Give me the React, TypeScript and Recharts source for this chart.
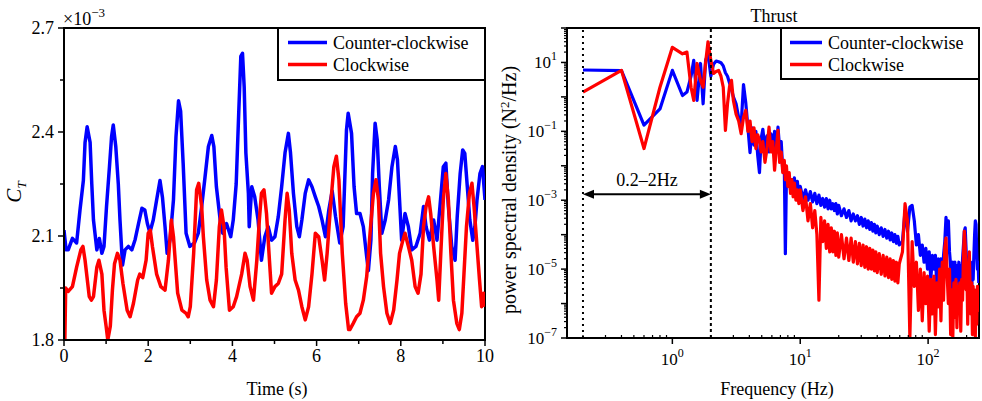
import React from 'react';
import { LineChart, Line, XAxis, YAxis, ReferenceLine, ReferenceArea } from 'recharts';

const SERIF = '"Liberation Serif", "Times New Roman", Times, serif';
const BLUE = '#0000ff';
const RED = '#ff0000';

// ---------- Left panel: thrust coefficient time history (values in units of 1e-3) ----------
const ccwTime = [
  0, 0.05, 0.1, 0.2, 0.3, 0.38, 0.46, 0.5, 0.55, 0.62,
  0.66, 0.7, 0.78, 0.84, 0.9, 0.95, 1.01, 1.08, 1.13, 1.17,
  1.23, 1.29, 1.33, 1.39, 1.45, 1.53, 1.61, 1.69, 1.77, 1.85,
  1.92, 1.98, 2.04, 2.12, 2.2, 2.28, 2.34, 2.4, 2.45, 2.52,
  2.6, 2.66, 2.72, 2.77, 2.83, 2.9, 2.99, 3.1, 3.19, 3.27,
  3.35, 3.43, 3.51, 3.56, 3.62, 3.71, 3.77, 3.86, 3.96, 4.02,
  4.09, 4.15, 4.2, 4.24, 4.28, 4.32, 4.38, 4.4, 4.46, 4.53,
  4.61, 4.69, 4.77, 4.85, 4.93, 5.01, 5.09, 5.17, 5.25, 5.33,
  5.38, 5.45, 5.53, 5.59, 5.65, 5.73, 5.81, 5.89, 5.97, 6.05,
  6.13, 6.21, 6.29, 6.37, 6.45, 6.55, 6.63, 6.71, 6.75, 6.83,
  6.89, 6.95, 7.03, 7.11, 7.19, 7.23, 7.29, 7.33, 7.39, 7.44,
  7.49, 7.55, 7.63, 7.71, 7.79, 7.87, 7.92, 7.97, 8.02, 8.1,
  8.18, 8.26, 8.36, 8.46, 8.54, 8.6, 8.68, 8.78, 8.86, 8.93,
  9.01, 9.07, 9.13, 9.21, 9.29, 9.34, 9.41, 9.47, 9.52, 9.58,
  9.64, 9.71, 9.76, 9.81, 9.88, 9.94, 10,
];
const ccwCt = [
  2.117, 2.06, 2.06, 2.093, 2.08, 2.175, 2.26, 2.37, 2.415, 2.37,
  2.25, 2.146, 2.06, 2.093, 2.05, 2.07, 2.185, 2.30, 2.387, 2.42,
  2.358, 2.25, 2.146, 2.016, 2.06, 2.07, 2.06, 2.09, 2.136, 2.18,
  2.175, 2.136, 2.11, 2.146, 2.204, 2.26, 2.21, 2.127, 2.05, 2.09,
  2.204, 2.387, 2.49, 2.46, 2.31, 2.108, 2.07, 2.08, 2.108, 2.185,
  2.27, 2.358, 2.39, 2.358, 2.242, 2.146, 2.108, 2.136, 2.098, 2.146,
  2.25, 2.454, 2.618, 2.627, 2.53, 2.34, 2.223, 2.127, 2.242, 2.213,
  2.146, 2.03, 2.098, 2.127, 2.088, 2.098, 2.156, 2.242, 2.34, 2.396,
  2.34, 2.223, 2.127, 2.098, 2.146, 2.223, 2.262, 2.242, 2.213, 2.185,
  2.146, 2.098, 2.175, 2.23, 2.156, 2.08, 2.127, 2.406, 2.454, 2.396,
  2.242, 2.165, 2.165, 2.127, 2.04, 2.0, 2.088, 2.28, 2.425, 2.377,
  2.242, 2.108, 2.146, 2.204, 2.30, 2.358, 2.32, 2.204, 2.088, 2.165,
  2.127, 2.06, 2.07, 2.108, 2.185, 2.127, 2.088, 2.146, 2.088, 2.185,
  2.30, 2.31, 2.185, 2.07, 2.03, 2.156, 2.28, 2.348, 2.338, 2.242,
  2.146, 2.088, 2.127, 2.204, 2.28, 2.30, 2.204,
];
const cwTime = [
  0, 0.02, 0.04, 0.1, 0.2, 0.3, 0.4, 0.45, 0.5, 0.6, 0.65,
  0.7, 0.78, 0.83, 0.9, 0.95, 1.0, 1.04, 1.1, 1.15, 1.2,
  1.27, 1.33, 1.4, 1.5, 1.57, 1.65, 1.75, 1.8, 1.87, 1.95,
  2.0, 2.05, 2.1, 2.2, 2.3, 2.4, 2.48, 2.55, 2.6, 2.7,
  2.8, 2.9, 2.95, 3.0, 3.08, 3.15, 3.2, 3.27, 3.31, 3.39,
  3.47, 3.55, 3.62, 3.69, 3.74, 3.8, 3.85, 3.93, 4.02, 4.1,
  4.22, 4.3, 4.35, 4.42, 4.5, 4.58, 4.64, 4.69, 4.75, 4.81,
  4.88, 4.93, 5.01, 5.09, 5.17, 5.25, 5.3, 5.35, 5.41, 5.49,
  5.57, 5.65, 5.73, 5.81, 5.89, 5.97, 6.05, 6.13, 6.19, 6.25,
  6.33, 6.41, 6.47, 6.53, 6.61, 6.69, 6.76, 6.79, 6.87, 6.95,
  7.03, 7.11, 7.19, 7.27, 7.35, 7.41, 7.47, 7.52, 7.59, 7.67,
  7.75, 7.83, 7.91, 7.97, 8.05, 8.1, 8.18, 8.26, 8.34, 8.41,
  8.48, 8.54, 8.6, 8.66, 8.71, 8.78, 8.86, 8.9, 8.95, 9.01,
  9.07, 9.13, 9.19, 9.25, 9.33, 9.39, 9.45, 9.5, 9.56, 9.63,
  9.69, 9.74, 9.81, 9.87, 9.92, 9.97, 10,
];
const cwCt = [
  1.93, 1.80, 1.95, 1.94, 1.954, 2.01, 2.06, 2.07, 2.03, 1.925, 1.915,
  1.925, 2.01, 2.03, 1.99, 1.886, 1.84, 1.80, 1.84, 1.944, 2.02,
  2.05, 2.03, 1.963, 1.886, 1.867, 1.906, 1.973, 1.99, 1.98, 2.03,
  2.108, 2.117, 2.07, 1.99, 1.954, 1.944, 2.03, 2.146, 2.098, 1.935,
  1.886, 1.877, 1.867, 1.896, 2.05, 2.233, 2.252, 2.185, 2.098, 1.973,
  1.915, 1.896, 1.973, 2.127, 2.175, 2.127, 2.01, 1.886, 1.896, 1.925,
  1.99, 2.05, 2.03, 1.954, 1.915, 2.03, 2.146, 2.223, 2.233, 2.165,
  2.03, 1.935, 1.954, 1.963, 1.99, 2.146, 2.223, 2.175, 2.05, 1.973,
  1.944, 1.896, 1.858, 1.896, 1.99, 2.108, 2.098, 2.03, 1.973, 2.05,
  2.185, 2.30, 2.33, 2.262, 2.05, 1.906, 1.83, 1.83, 1.848, 1.867,
  1.877, 1.915, 1.983, 2.108, 2.223, 2.262, 2.204, 2.05, 1.954, 1.877,
  1.848, 1.886, 1.973, 2.05, 2.088, 2.108, 2.07, 2.03, 1.954, 1.935,
  1.99, 2.127, 2.185, 2.213, 2.165, 2.07, 1.973, 1.915, 2.05, 2.204,
  2.28, 2.204, 2.05, 1.915, 1.848, 1.83, 1.877, 1.99, 2.127, 2.223,
  2.252, 2.185, 2.07, 1.973, 1.896, 1.935, 1.896,
];
const timeMajorTicks = [0, 2, 4, 6, 8, 10];
const timeMinorTicks = [1, 3, 5, 7, 9];
const ctMajorTicks = [1.8, 2.1, 2.4, 2.7];
const ctMinorTicks = [1.95, 2.25, 2.55];

// ---------- Right panel: power spectral density (log10 of N^2/Hz) ----------
const freqHz = [
  0.2, 0.4, 0.6, 0.8, 1.0, 1.2, 1.3, 1.4, 1.47, 1.56, 1.66, 1.74, 1.82, 1.9, 2.0, 2.1, 2.2, 2.3, 2.4, 2.5, 2.6, 2.7, 2.8, 2.9, 3.0,
  3.15, 3.3, 3.45, 3.6, 3.75, 3.9, 4.05, 4.2, 4.35, 4.5, 4.65, 4.8, 4.95, 5.1, 5.3, 5.5, 5.7, 5.9, 6.1, 6.3,
  6.5, 6.7, 6.9, 7.1, 7.3, 7.5, 7.65, 7.8, 8.0, 8.2, 8.4, 8.6, 8.8, 9.0, 9.25, 9.5, 9.75,
  10, 10.5, 11, 11.5, 12, 12.5, 13, 13.5, 14, 14.5, 15, 15.5, 16, 16.5, 17, 17.5, 18, 18.5, 19, 19.5, 20,
  21, 22, 23, 24, 25, 26, 27, 28, 29, 30, 31, 32, 33, 34, 35, 36, 37, 38, 39, 40,
  41.5, 43, 44.5, 46, 47.5, 49, 50.5, 52, 53.5, 55, 56.5, 58, 59.5,
  63, 66, 69, 72, 75, 78, 81, 84, 87, 90,
  93, 96, 99, 102, 105, 108, 111, 114, 117, 120,
  123, 126, 129, 132, 135, 138, 141, 144, 147, 150,
  153, 156, 159, 162, 165, 168, 171, 174, 177, 180,
  183, 186, 189, 192, 195, 198, 201, 204, 207, 210,
  213, 216, 219, 222, 225, 228, 231, 234, 237, 240,
  243, 246, 249,
];
const ccwPsdLog10 = [
  0.78, 0.76, -0.82, -0.35, 0.77, 0.04, 0.14, 0.6, 1.06, -0.1, 0.97, -0.2, 1.06, 1.26, 0.6, 0.95, 1.04, 1.02, 0.99, 0.9, 0.7, 0.6, 0.4, 0.22, 0.0,
  -0.2, -0.6, -0.84, 0.36, -0.17, -0.9, -1.62, -0.9, -1.4, -1.0, -1.7, -2.2, -1.2, -0.94, -1.5, -1.13, -1.6, -1.07, -1.5, -1.0,
  -1.6, -0.88, -1.5, -1.3, -2.13, -1.9, -4.55, -2.3, -2.5, -2.3, -2.7, -2.4, -2.8, -2.35, -2.8, -2.45, -2.9,
  -2.6, -2.95, -2.7, -3.0, -2.75, -3.05, -2.8, -3.1, -2.85, -3.15, -2.95, -3.2, -2.95, -3.25, -3.0, -3.25, -3.1, -3.3, -3.1, -3.4, -3.15,
  -3.45, -3.25, -3.5, -3.3, -3.6, -3.4, -3.6, -3.45, -3.7, -3.5, -3.75, -3.55, -3.8, -3.6, -3.85, -3.65, -3.9, -3.7, -3.95, -3.75,
  -4.0, -3.8, -4.05, -3.85, -4.1, -3.9, -4.15, -3.95, -4.2, -4.0, -4.25, -4.05, -4.3,
  -4.2, -3.3, -3.9, -3.2, -3.15, -3.6, -4.3, -4.0, -4.6, -4.3,
  -4.8, -4.4, -5.0, -4.5, -5.3, -4.6, -5.0, -4.6, -5.5, -4.7,
  -5.2, -4.7, -5.6, -4.6, -4.2, -3.5, -4.0, -3.6, -4.5, -4.9,
  -6.6, -4.8, -5.4, -4.8, -5.7, -4.9, -5.2, -4.8, -5.6, -4.9,
  -5.3, -4.7, -4.3, -3.9, -3.8, -4.4, -5.0, -4.8, -5.6, -4.9,
  -5.3, -4.9, -5.8, -4.8, -5.3, -4.6, -4.0, -3.6, -3.7, -4.5,
  -5.0, -4.8, -5.4,
];
const cwPsdLog10 = [
  0.14, 0.77, -1.5, 0.28, 1.44, 1.25, 1.3, 0.28, -0.1, 0.97, 0.48, 0.28, 1.0, 1.6, 1.06, 0.68, 0.74, 0.77, 0.6, 0.28, -0.97, -0.2, 0.3, 0.48, -0.1,
  -0.5, -0.7, -1.07, -0.6, -0.39, -1.0, -0.7, -1.3, -0.9, -1.5, -1.1, -1.26, -1.6, -1.3, -1.9, -1.5, -0.88, -1.6, -1.3, -2.13,
  -1.5, -0.97, -1.9, -1.6, -2.2, -1.84, -2.4, -2.0, -2.6, -2.2, -2.8, -2.4, -2.9, -2.5, -3.0, -2.7, -3.1,
  -2.7, -3.3, -2.9, -3.6, -3.1, -3.8, -3.3, -4.0, -5.9, -3.5, -4.2, -3.6, -4.4, -3.7, -4.5, -3.8, -4.5, -3.9, -4.6, -3.95, -4.65,
  -4.0, -4.7, -4.1, -4.75, -4.1, -4.8, -4.2, -4.85, -4.25, -4.9, -4.3, -4.95, -4.35, -5.0, -4.4, -5.0, -4.45, -5.05, -4.5, -5.1,
  -4.55, -5.15, -4.6, -5.2, -4.65, -5.25, -4.7, -5.3, -4.75, -5.35, -4.8, -5.4, -4.85,
  -4.5, -3.1, -3.6, -7.0, -4.2, -5.5, -4.8, -6.2, -5.0, -6.5,
  -5.1, -6.0, -5.2, -6.8, -5.3, -6.3, -5.2, -6.9, -5.4, -6.1,
  -5.0, -6.5, -4.8, -5.9, -4.4, -4.1, -5.2, -6.0, -5.0, -6.9,
  -5.6, -7.0, -5.4, -6.4, -5.3, -6.7, -5.5, -6.2, -5.4, -6.8,
  -5.3, -5.9, -4.6, -3.9, -4.3, -5.6, -5.0, -6.6, -4.9, -4.5,
  -5.6, -6.3, -5.4, -6.9, -5.5, -6.5, -5.6, -7.0, -5.7, -6.6,
  -5.5, -6.2, -5.8,
];
const freqLabelExps = [0, 1, 2];
const psdLabelExps = [1, -1, -3, -5, -7];
const bandEdgesHz = [0.2, 2];
const bandArrowPsd = 1.5e-3;
const bandLabel = '0.2\u20132Hz';
const seriesNames = ['Counter-clockwise', 'Clockwise'];

// ---------- tables built from the arrays ----------
const ccwSeries = ccwTime.map((t, i) => ({ t, ct: ccwCt[i] }));
const cwSeries = cwTime.map((t, i) => ({ t, ct: cwCt[i] }));
const psdData = freqHz.map((f, i) => ({
  f,
  ccw: Math.pow(10, ccwPsdLog10[i]),
  cw: Math.pow(10, cwPsdLog10[i]),
}));

const logTicks = (lo: number, hi: number, min: number, max: number) => {
  const out: number[] = [];
  for (let e = lo; e <= hi; e++) {
    for (let k = 1; k <= 9; k++) {
      const v = k * Math.pow(10, e);
      if (v >= min * 0.9999 && v <= max * 1.0001) out.push(v);
    }
  }
  return out;
};
const freqTicks = logTicks(-1, 2, 0.15, 250);
const psdTicks = logTicks(-7, 2, 1e-7, 100);
const decadeOf = (v: number) => {
  const l = Math.log10(v);
  const e = Math.round(l);
  return Math.abs(l - e) < 1e-6 ? e : null;
};
const supText = (e: number) => (e < 0 ? '\u2212' + Math.abs(e) : String(e));

// ---------- tick components ----------
const TimeTick = (props: any) => {
  const { x, y, payload } = props;
  const v = payload.value;
  const major = timeMajorTicks.includes(v);
  return (
    <g>
      <line x1={x} x2={x} y1={y} y2={y + (major ? 6 : 4)} stroke="#000" strokeWidth={1.5} />
      {major && (
        <text x={x} y={y + 22} textAnchor="middle" fontFamily={SERIF} fontSize={18} fill="#000">
          {v}
        </text>
      )}
    </g>
  );
};

const CtTick = (props: any) => {
  const { x, y, payload } = props;
  const v = payload.value;
  const major = ctMajorTicks.some((m) => Math.abs(m - v) < 1e-9);
  return (
    <g>
      <line x1={x} x2={x - (major ? 6 : 4)} y1={y} y2={y} stroke="#000" strokeWidth={1.5} />
      {major && (
        <text x={x - 10} y={y + 6} textAnchor="end" fontFamily={SERIF} fontSize={18} fill="#000">
          {v.toFixed(1)}
        </text>
      )}
    </g>
  );
};

const FreqTick = (props: any) => {
  const { x, y, payload } = props;
  const e = decadeOf(payload.value);
  const major = e !== null;
  const labelled = major && freqLabelExps.includes(e as number);
  return (
    <g>
      {major ? (
        <line x1={x} x2={x} y1={y} y2={y + 6} stroke="#000" strokeWidth={1.5} />
      ) : (
        <line x1={x} x2={x} y1={y} y2={y - 3} stroke="#000" strokeWidth={1.2} />
      )}
      {labelled && (
        <text x={x} y={y + 27} textAnchor="middle" fontFamily={SERIF} fontSize={17} fill="#000">
          10<tspan dy={-8} fontSize={12}>{supText(e as number)}</tspan>
        </text>
      )}
    </g>
  );
};

const PsdTick = (props: any) => {
  const { x, y, payload } = props;
  const e = decadeOf(payload.value);
  const major = e !== null;
  const labelled = major && psdLabelExps.includes(e as number);
  return (
    <g>
      <line x1={x} x2={x - (major ? 6 : 3)} y1={y} y2={y} stroke="#000" strokeWidth={major ? 1.5 : 1.2} />
      {labelled && (
        <text x={x - 10} y={y + 6} textAnchor="end" fontFamily={SERIF} fontSize={17} fill="#000">
          10<tspan dy={-8} fontSize={12}>{supText(e as number)}</tspan>
        </text>
      )}
    </g>
  );
};

const BandArrow = (props: any) => {
  const { x1, y1, x2, y2 } = props;
  const h = 11;
  const w = 4.5;
  return (
    <g>
      <line x1={x1 + h - 1} y1={y1} x2={x2 - h + 1} y2={y2} stroke="#000" strokeWidth={2} />
      <polygon points={`${x1},${y1} ${x1 + h},${y1 - w} ${x1 + h},${y1 + w}`} fill="#000" />
      <polygon points={`${x2},${y2} ${x2 - h},${y2 - w} ${x2 - h},${y2 + w}`} fill="#000" />
      <text x={(x1 + x2) / 2} y={y1 - 8} textAnchor="middle" fontFamily={SERIF} fontSize={18} fill="#000">
        {bandLabel}
      </text>
    </g>
  );
};

const LegendBox = ({ x, y, w, h, lineX1, lineX2, textX }: any) => (
  <g>
    <rect x={x} y={y} width={w} height={h} fill="#fff" stroke="#000" strokeWidth={2} />
    <line x1={lineX1} x2={lineX2} y1={y + 14.5} y2={y + 14.5} stroke={BLUE} strokeWidth={3.5} />
    <line x1={lineX1} x2={lineX2} y1={y + 36.5} y2={y + 36.5} stroke={RED} strokeWidth={3.5} />
    <text x={textX} y={y + 21} fontFamily={SERIF} fontSize={18} fill="#000">{seriesNames[0]}</text>
    <text x={textX} y={y + 43} fontFamily={SERIF} fontSize={18} fill="#000">{seriesNames[1]}</text>
  </g>
);

export default function App() {
  return (
    <div style={{ position: 'absolute', left: 0, top: 0, width: 982, height: 401, background: '#fff', overflow: 'hidden' }}>
      {/* Left panel */}
      <div style={{ position: 'absolute', left: 0, top: 0 }}>
        <LineChart width={495} height={401} margin={{ top: 28, right: 10, bottom: 31, left: 24 }}>
          <XAxis
            dataKey="t"
            type="number"
            domain={[0, 10]}
            allowDataOverflow
            ticks={[...timeMajorTicks, ...timeMinorTicks].sort((a, b) => a - b)}
            interval={0}
            tick={<TimeTick />}
            tickLine={false}
            tickSize={0}
            tickMargin={0}
            height={30}
            axisLine={{ stroke: '#000', strokeWidth: 2 }}
          />
          <YAxis
            type="number"
            domain={[1.8, 2.7]}
            allowDataOverflow
            ticks={[...ctMajorTicks, ...ctMinorTicks].sort((a, b) => a - b)}
            interval={0}
            tick={<CtTick />}
            tickLine={false}
            tickSize={0}
            tickMargin={0}
            width={40}
            axisLine={{ stroke: '#000', strokeWidth: 2 }}
          />
          <ReferenceArea x1={0} x2={10} y1={1.8} y2={2.7} fill="none" stroke="#000" strokeWidth={2} />
          <Line data={ccwSeries} dataKey="ct" type="linear" stroke={BLUE} strokeWidth={3.5} strokeLinejoin="round" dot={false} isAnimationActive={false} name={seriesNames[0]} />
          <Line data={cwSeries} dataKey="ct" type="linear" stroke={RED} strokeWidth={3.5} strokeLinejoin="round" dot={false} isAnimationActive={false} name={seriesNames[1]} />
        </LineChart>
      </div>

      {/* Right panel */}
      <div style={{ position: 'absolute', left: 495, top: 0 }}>
        <LineChart width={487} height={401} data={psdData} margin={{ top: 28, right: 3, bottom: 33, left: 32 }}>
          <XAxis
            dataKey="f"
            type="number"
            scale="log"
            domain={[0.15, 250]}
            allowDataOverflow
            ticks={freqTicks}
            interval={0}
            tick={<FreqTick />}
            tickLine={false}
            tickSize={0}
            tickMargin={0}
            height={30}
            axisLine={{ stroke: '#000', strokeWidth: 2 }}
          />
          <YAxis
            type="number"
            scale="log"
            domain={[1e-7, 100]}
            allowDataOverflow
            ticks={psdTicks}
            interval={0}
            tick={<PsdTick />}
            tickLine={false}
            tickSize={0}
            tickMargin={0}
            width={40}
            axisLine={{ stroke: '#000', strokeWidth: 2 }}
          />
          <ReferenceArea x1={0.15} x2={250} y1={1e-7} y2={100} fill="none" stroke="#000" strokeWidth={2} />
          <Line dataKey="ccw" type="linear" stroke={BLUE} strokeWidth={3.2} strokeLinejoin="round" dot={false} isAnimationActive={false} name={seriesNames[0]} />
          <Line dataKey="cw" type="linear" stroke={RED} strokeWidth={3.2} strokeLinejoin="round" dot={false} isAnimationActive={false} name={seriesNames[1]} />
          <ReferenceLine x={bandEdgesHz[0]} stroke="#000" strokeWidth={2} strokeDasharray="2 4" />
          <ReferenceLine x={bandEdgesHz[1]} stroke="#000" strokeWidth={2} strokeDasharray="3 3" />
          <ReferenceLine
            segment={[{ x: bandEdgesHz[0], y: bandArrowPsd }, { x: bandEdgesHz[1], y: bandArrowPsd }]}
            stroke="#000"
            shape={BandArrow}
          />
        </LineChart>
      </div>

      {/* Static texts and legends */}
      <svg width={982} height={401} style={{ position: 'absolute', left: 0, top: 0, pointerEvents: 'none' }}>
        <text x={63} y={25} fontFamily={SERIF} fontSize={18} fill="#000">
          {'\u00d710'}<tspan dy={-8} fontSize={13}>{'\u22123'}</tspan>
        </text>
        <text transform="translate(21,192) rotate(-90)" textAnchor="middle" fontFamily={SERIF} fontSize={21} fill="#000">
          <tspan fontStyle="italic">C</tspan>
          <tspan fontStyle="italic" fontSize={13} dy={5}>T</tspan>
        </text>
        <text x={277} y={395} textAnchor="middle" fontFamily={SERIF} fontSize={18} fill="#000">Time (s)</text>
        <LegendBox x={278} y={28} w={207} h={52} lineX1={288} lineX2={327} textX={333} />

        <text x={774} y={22} textAnchor="middle" fontFamily={SERIF} fontSize={18} fill="#000">Thrust</text>
        <text transform="translate(516,190) rotate(-90)" textAnchor="middle" fontFamily={SERIF} fontSize={20} fill="#000">
          power spectral density (N<tspan dy={-7} fontSize={13}>2</tspan><tspan dy={7}>/Hz)</tspan>
        </text>
        <text x={777} y={395} textAnchor="middle" fontFamily={SERIF} fontSize={18} fill="#000">Frequency (Hz)</text>
        <LegendBox x={781} y={28} w={198} h={51} lineX1={790} lineX2={822} textX={828} />
      </svg>
    </div>
  );
}
